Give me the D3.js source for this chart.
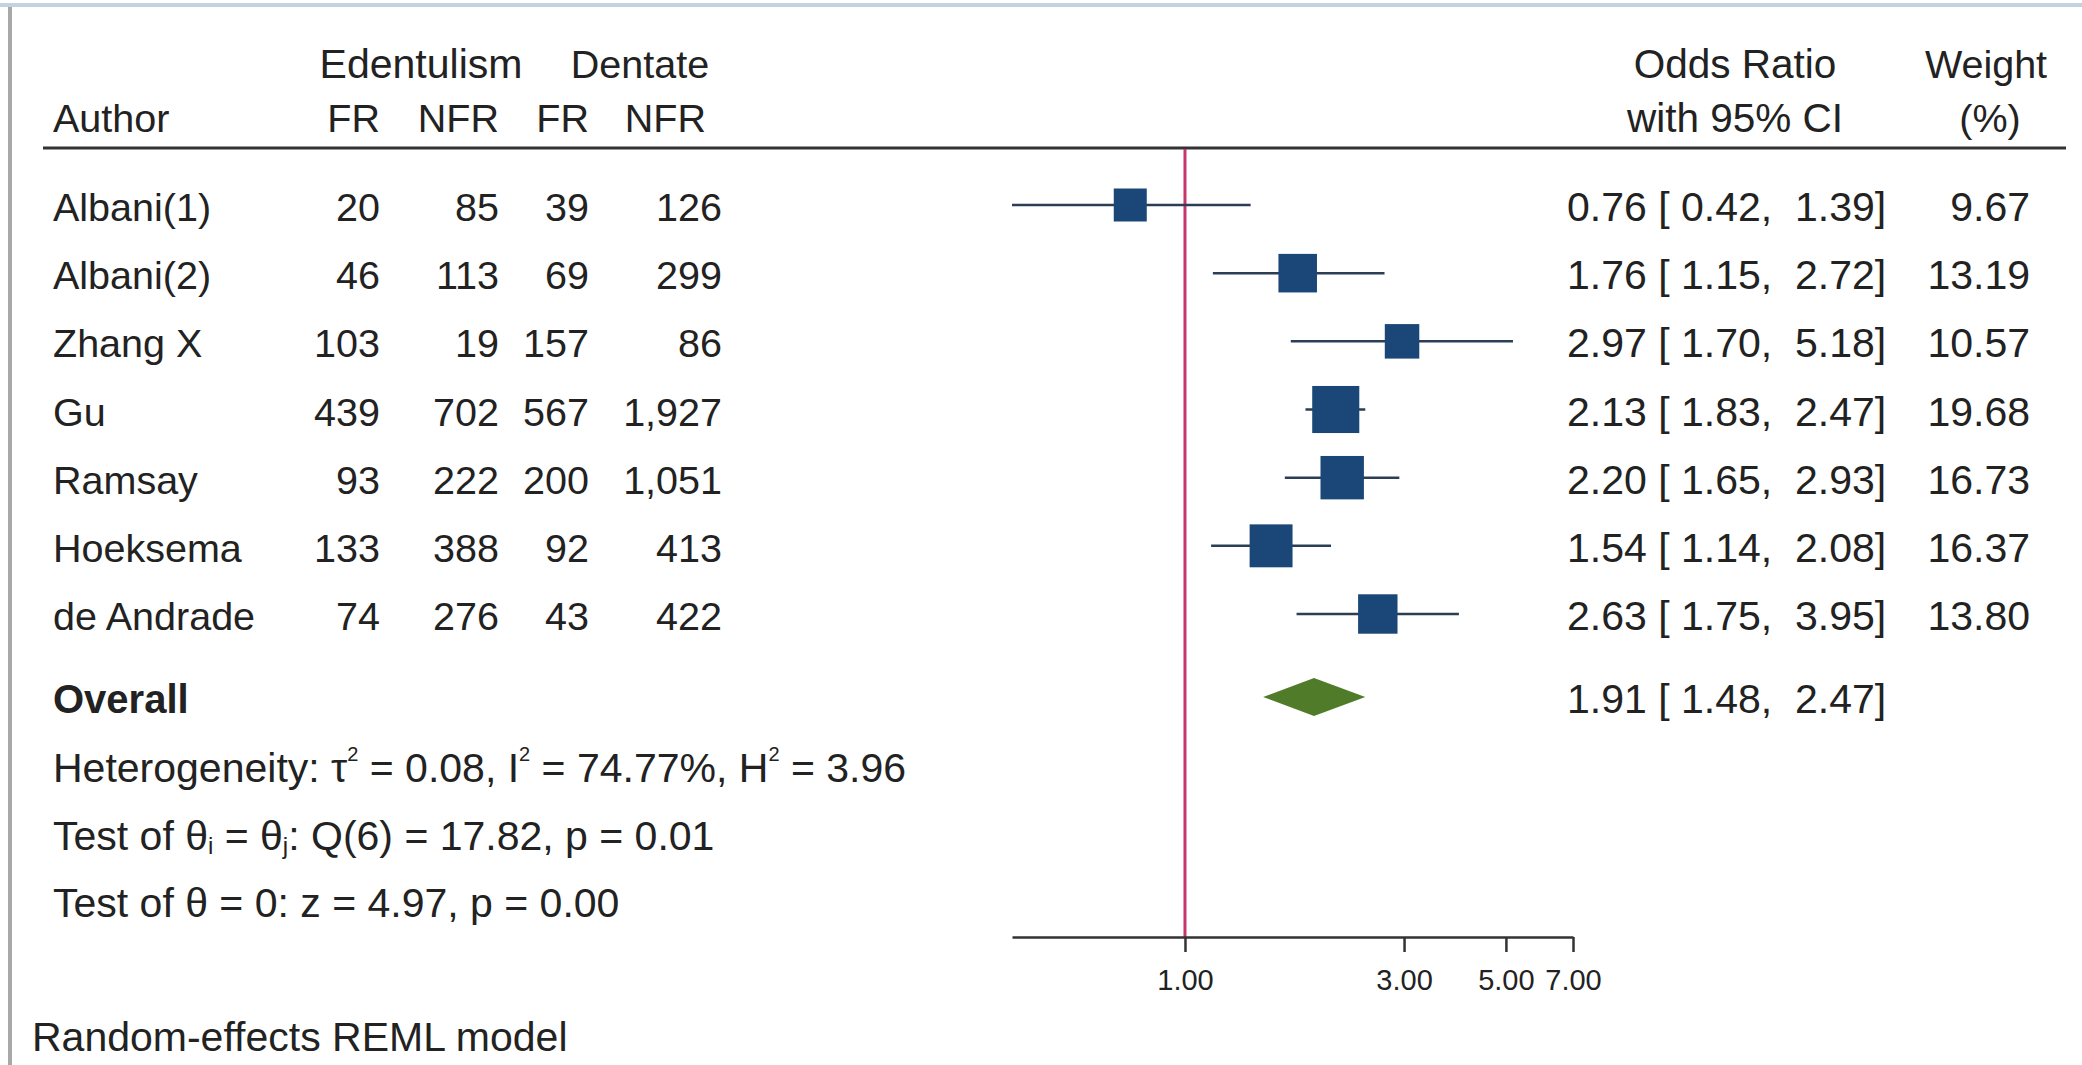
<!DOCTYPE html>
<html>
<head>
<meta charset="utf-8">
<script src="https://cdn.jsdelivr.net/npm/d3@7"></script>
<style>
  body { margin: 0; background: #fff; }
  text { font-family: Arial, "Liberation Sans", sans-serif; fill: #222; }
</style>
</head>
<body>
<div id="chart"></div>
<script>
// -------------------- Data --------------------
const authors = ["Albani(1)", "Albani(2)", "Zhang X", "Gu", "Ramsay", "Hoeksema", "de Andrade"];
const edentFR = [20, 46, 103, 439, 93, 133, 74];
const edentNFR = [85, 113, 19, 702, 222, 388, 276];
const dentFR = [39, 69, 157, 567, 200, 92, 43];
const dentNFR = [126, 299, 86, 1927, 1051, 413, 422];
const oddsRatio = [0.76, 1.76, 2.97, 2.13, 2.20, 1.54, 2.63];
const ciLow = [0.42, 1.15, 1.70, 1.83, 1.65, 1.14, 1.75];
const ciHigh = [1.39, 2.72, 5.18, 2.47, 2.93, 2.08, 3.95];
const weights = [9.67, 13.19, 10.57, 19.68, 16.73, 16.37, 13.80];
const overall = [1.91, 1.48, 2.47];   // estimate, low, high
const xTicks = [1, 3, 5, 7];

const rows = authors.map((a, i) => ({
  author: a, eFR: edentFR[i], eNFR: edentNFR[i], dFR: dentFR[i], dNFR: dentNFR[i],
  or: oddsRatio[i], lo: ciLow[i], hi: ciHigh[i], w: weights[i]
}));

// -------------------- SVG --------------------
const width = 2082, height = 1065;
const svg = d3.select("#chart").append("svg")
  .attr("width", width).attr("height", height);

// window frame
svg.append("line").attr("x1", 0).attr("x2", width).attr("y1", 5).attr("y2", 5)
  .attr("stroke", "#c3d2e2").attr("stroke-width", 4);
svg.append("line").attr("x1", 10).attr("x2", 10).attr("y1", 7).attr("y2", height)
  .attr("stroke", "#a8a8a8").attr("stroke-width", 4);

// -------------------- Scales --------------------
const x = d3.scaleLog().domain([0.42, 7]).range([1012, 1573]);
const y = d3.scaleLinear().domain([0, authors.length - 1]).range([205, 614]);
const side = d3.scaleSqrt().domain([0, 9.67]).range([0, 33]);
const overallY = 697;
const fs = 39.5;
const fmt = d3.format(",");
const f2 = d3.format(".2f");
const pad5 = v => (" " + f2(v)).slice(-5);

// -------------------- Header --------------------
const hdr = svg.append("g").style("font-size", fs + "px");
hdr.append("text").attr("x", 421).attr("y", 78).attr("text-anchor", "middle").style("font-size", "41px").text("Edentulism");
hdr.append("text").attr("x", 640).attr("y", 78).attr("text-anchor", "middle").text("Dentate");
hdr.append("text").attr("x", 53).attr("y", 132).text("Author");
const cols = [380, 499, 589, 722];
const colHdr = [[380, "FR"], [499, "NFR"], [589, "FR"], [706, "NFR"]];
colHdr.forEach(([cx, t]) =>
  hdr.append("text").attr("x", cx).attr("y", 132).attr("text-anchor", "end").text(t));
hdr.append("text").attr("x", 1735).attr("y", 78).attr("text-anchor", "middle").style("font-size", "40.5px").text("Odds Ratio");
hdr.append("text").attr("x", 1735).attr("y", 132).attr("text-anchor", "middle").style("font-size", "40.5px").text("with 95% CI");
hdr.append("text").attr("x", 1986).attr("y", 78).attr("text-anchor", "middle").text("Weight");
hdr.append("text").attr("x", 1990).attr("y", 132).attr("text-anchor", "middle").text("(%)");

svg.append("line").attr("x1", 43).attr("x2", 2066).attr("y1", 148).attr("y2", 148)
  .attr("stroke", "#333").attr("stroke-width", 3);

// -------------------- Null line --------------------
svg.append("line").attr("x1", x(1)).attr("x2", x(1)).attr("y1", 149).attr("y2", 937)
  .attr("stroke", "#c8346c").attr("stroke-width", 3);

// -------------------- Study rows --------------------
const row = svg.append("g").selectAll("g").data(rows).join("g")
  .attr("transform", (d, i) => `translate(0,${y(i)})`)
  .style("font-size", fs + "px");

row.append("text").attr("x", 53).attr("y", 16).text(d => d.author);
["eFR", "eNFR", "dFR", "dNFR"].forEach((k, j) =>
  row.append("text").attr("x", cols[j]).attr("y", 16).attr("text-anchor", "end")
    .text(d => fmt(d[k])));

row.append("line")
  .attr("x1", d => x(d.lo)).attr("x2", d => x(d.hi))
  .attr("stroke", "#2c3e55").attr("stroke-width", 2.5);
row.append("rect")
  .attr("x", d => x(d.or) - side(d.w) / 2).attr("y", d => -side(d.w) / 2)
  .attr("width", d => side(d.w)).attr("height", d => side(d.w))
  .attr("fill", "#1b4778");

row.append("text").attr("x", 1567).attr("y", 16).style("white-space", "pre")
  .style("font-size", "41px")
  .text(d => `${f2(d.or)} [${pad5(d.lo)}, ${pad5(d.hi)}]`);
row.append("text").attr("x", 2030).attr("y", 16).attr("text-anchor", "end")
  .style("font-size", "41px")
  .text(d => f2(d.w));

// -------------------- Overall --------------------
svg.append("text").attr("x", 53).attr("y", overallY + 16)
  .style("font-size", "40px").style("font-weight", "bold").text("Overall");
const dh = 19;
svg.append("path")
  .attr("d", `M${x(overall[1])},${overallY} L${x(overall[0])},${overallY - dh} L${x(overall[2])},${overallY} L${x(overall[0])},${overallY + dh} Z`)
  .attr("fill", "#507c2a");
svg.append("text").attr("x", 1567).attr("y", overallY + 16).style("font-size", "41px")
  .style("white-space", "pre")
  .text(`${f2(overall[0])} [${pad5(overall[1])}, ${pad5(overall[2])}]`);

// -------------------- Statistics text --------------------
const stats = svg.append("g").style("font-size", "41px");
const het = stats.append("text").attr("x", 53).attr("y", 782);
const sup = t => het.append("tspan").attr("dy", -21).style("font-size", "20px").text(t);
const back = t => het.append("tspan").attr("dy", 21).text(t);
het.append("tspan").text("Heterogeneity: \u03C4");
sup("2"); back(" = 0.08, I");
sup("2"); back(" = 74.77%, H");
sup("2"); back(" = 3.96");

const t1 = stats.append("text").attr("x", 53).attr("y", 850);
t1.append("tspan").text("Test of \u03B8");
t1.append("tspan").attr("dy", 4).style("font-size", "24px").text("i");
t1.append("tspan").attr("dy", -4).text(" = \u03B8");
t1.append("tspan").attr("dy", 4).style("font-size", "24px").text("j");
t1.append("tspan").attr("dy", -4).text(": Q(6) = 17.82, p = 0.01");

stats.append("text").attr("x", 53).attr("y", 917).text("Test of \u03B8 = 0: z = 4.97, p = 0.00");
stats.append("text").attr("x", 32).attr("y", 1051).text("Random-effects REML model");

// -------------------- Axis --------------------
const axis = svg.append("g").attr("transform", "translate(0,937)")
  .call(d3.axisBottom(x).tickValues(xTicks).tickFormat(f2).tickSize(15).tickPadding(17).tickSizeOuter(0));
axis.select(".domain").attr("stroke", "#333").attr("stroke-width", 2.5);
axis.selectAll(".tick line").attr("stroke", "#333").attr("stroke-width", 2.5);
axis.selectAll(".tick text").style("font-size", "29px").attr("fill", "#333")
  .style("font-family", "Arial, 'Liberation Sans', sans-serif");
</script>
</body>
</html>
